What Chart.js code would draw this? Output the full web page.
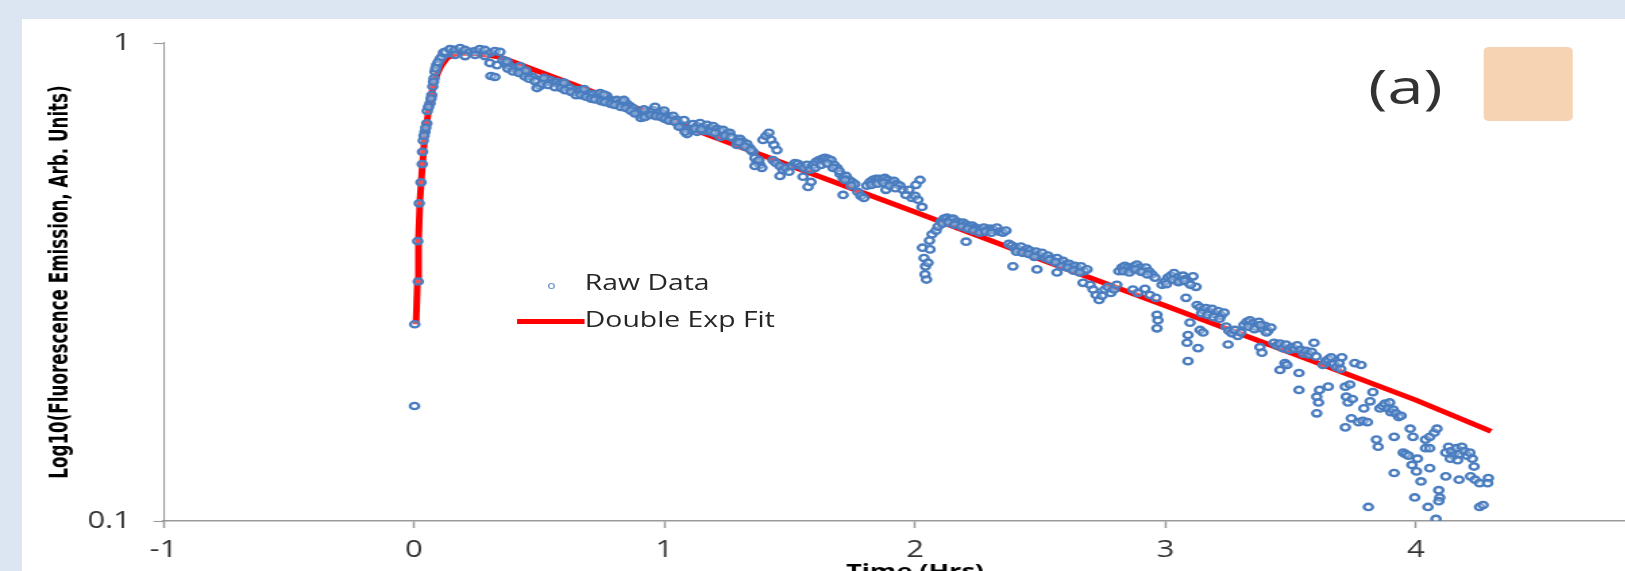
<!DOCTYPE html>
<html>
<head>
<meta charset="utf-8">
<script src="https://cdn.jsdelivr.net/npm/chart.js@4.4.1/dist/chart.umd.min.js"></script>
<style>
  html, body { margin: 0; padding: 0; width: 1625px; height: 571px; overflow: hidden; background: #dce6f2; }
  #panel { position: absolute; left: 22px; top: 19px; width: 1603px; height: 552px; background: #fff; }
  /* the source figure is stretched sideways, so the whole drawing is too */
  #stage { position: absolute; left: 0; top: 0; width: 1260px; height: 600px; transform: scaleX(1.35); transform-origin: 0 0; }
  #stage canvas { position: absolute; left: 0; top: 0; }
  .txt { position: absolute; font-family: 'Open Sans', sans-serif; color: #262626; white-space: nowrap; }
  .legend { font-size: 21px; line-height: 24px; }
  #mark { position: absolute; left: 405.6px; top: 283.2px; width: 3.4px; height: 3.4px; border: 1.4px solid #6f97cc; border-radius: 50%; }
  #fitline { position: absolute; left: 382.7px; top: 318.5px; width: 50.6px; height: 5px; background: #ff0000; }
  #tag { left: 1013.6px; top: 61px; font-size: 48px; line-height: 50px; color: #333; }
  #swatch { position: absolute; left: 1098.5px; top: 47px; width: 66.7px; height: 74px; background: #f6d3b2; border-radius: 4px; }
</style>
</head>
<body>
<div id="panel"></div>
<div id="stage">
  <canvas id="chart" width="1260" height="600" style="width:1260px;height:600px"></canvas>
  <div id="mark"></div>
  <div class="txt legend" style="left:433.2px;top:270.4px">Raw Data</div>
  <div id="fitline"></div>
  <div class="txt legend" style="left:433.2px;top:307.4px">Double Exp Fit</div>
  <div class="txt" id="tag">(a)</div>
  <div id="swatch"></div>
</div>
<script>
const xTicks = [-1, 0, 1, 2, 3, 4, 5];
const yTicks = [0.1, 1];
const yTickLabels = ['0.1', '1'];

// [time in hours, emission]
const rawData = [
  [0.002,0.174],[0.003,0.258],[0.017,0.317],[0.015,0.385],[0.021,0.462],[0.028,0.511],[0.033,0.558],[0.034,0.592],
  [0.037,0.625],[0.044,0.652],[0.051,0.679],[0.053,0.721],[0.064,0.748],[0.071,0.778],[0.075,0.811],[0.080,0.844],
  [0.084,0.871],[0.091,0.900],[0.104,0.925],[0.124,0.948],[0.144,0.970],
  [0.040,0.640],[0.047,0.665],[0.058,0.735],[0.068,0.765],[0.078,0.830],[0.087,0.885],[0.097,0.912],[0.110,0.935],[0.118,0.955],
  [0.124,0.958],[0.144,0.971],[0.164,0.967],[0.184,0.976],[0.204,0.967],[0.224,0.958],[0.244,0.962],[0.263,0.971],
  [0.283,0.967],[0.303,0.953],[0.323,0.962],[0.343,0.958],[0.164,0.944],[0.204,0.939],[0.244,0.944],[0.283,0.939],
  [0.303,0.908],[0.331,0.899],[0.307,0.853],[0.323,0.849],
  [0.355,0.921],[0.367,0.904],[0.383,0.895],[0.399,0.886],[0.411,0.878],[0.423,0.878],[0.435,0.869],[0.451,0.862],
  [0.463,0.853],[0.475,0.849],[0.491,0.837],[0.503,0.813],[0.515,0.837],[0.527,0.829],[0.543,0.837],[0.555,0.825],
  [0.571,0.829],[0.583,0.821],[0.595,0.817],[0.611,0.813],[0.623,0.805],[0.635,0.790],[0.651,0.797],[0.663,0.794],
  [0.675,0.790],[0.691,0.786],[0.703,0.778],[0.715,0.782],[0.731,0.775],[0.743,0.771],[0.754,0.767],[0.770,0.775],
  [0.782,0.760],[0.794,0.756],[0.810,0.760],[0.822,0.749],[0.834,0.753],[0.850,0.746],[0.862,0.738],[0.874,0.731],
  [0.890,0.717],[0.902,0.707],[0.914,0.704],[0.930,0.717],[0.942,0.721],[0.954,0.724],[0.970,0.714],[0.982,0.717],
  [0.994,0.711],[1.010,0.704],[1.022,0.697],[1.034,0.704],[1.050,0.691],[1.062,0.677],[1.074,0.664],[1.090,0.645],
  [1.102,0.658],[0.491,0.805],[0.743,0.786],[0.962,0.735],[0.423,0.895],
  [0.375,0.884],[0.395,0.872],[0.419,0.866],[0.443,0.851],[0.459,0.842],[0.483,0.832],[0.511,0.822],[0.535,0.817],
  [0.563,0.808],[0.587,0.805],[0.603,0.797],[0.627,0.790],[0.647,0.778],[0.667,0.778],[0.687,0.772],[0.707,0.765],
  [0.723,0.762],[0.747,0.756],[0.763,0.752],[0.786,0.746],[0.802,0.742],[0.826,0.735],[0.846,0.731],[0.866,0.722],
  [0.882,0.712],[0.906,0.697],[0.922,0.700],[0.946,0.707],[0.966,0.703],[0.986,0.700],[1.002,0.694],[1.018,0.688],
  [1.042,0.684],[1.058,0.668],[1.082,0.652],
  [0.371,0.915],[0.447,0.876],[0.519,0.845],[0.599,0.826],[0.679,0.801],[0.759,0.780],[0.838,0.760],[0.918,0.726],
  [0.998,0.722],[1.078,0.690],
  [1.114,0.677],[1.130,0.670],[1.142,0.680],[1.154,0.667],[1.170,0.674],[1.182,0.664],[1.194,0.670],[1.130,0.652],
  [1.162,0.655],[1.210,0.661],[1.222,0.655],[1.234,0.658],[1.250,0.646],[1.261,0.649],[1.222,0.636],[1.273,0.633],
  [1.289,0.627],[1.301,0.630],[1.313,0.621],[1.329,0.615],[1.289,0.612],[1.341,0.603],[1.353,0.592],[1.361,0.575],
  [1.369,0.564],[1.381,0.556],[1.389,0.548],[1.361,0.553],[1.377,0.569],[1.393,0.627],[1.405,0.639],[1.417,0.649],
  [1.425,0.627],[1.437,0.612],[1.449,0.597],[1.433,0.569],[1.445,0.561],[1.461,0.553],[1.473,0.543],[1.485,0.548],
  [1.497,0.538],[1.461,0.527],[1.509,0.553],[1.521,0.561],[1.533,0.559],[1.545,0.553],[1.557,0.548],[1.569,0.556],
  [1.581,0.543],[1.553,0.525],[1.573,0.500],[1.585,0.512],[1.593,0.556],[1.605,0.564],[1.617,0.569],[1.629,0.572],
  [1.641,0.575],[1.653,0.572],[1.665,0.569],[1.677,0.556],[1.689,0.548],[1.701,0.532],[1.713,0.522],[1.725,0.527],
  [1.737,0.517],[1.749,0.512],[1.760,0.507],[1.713,0.481],[1.772,0.488],[1.784,0.479],[1.796,0.474],[1.808,0.503],
  [1.820,0.512],[1.832,0.517],[1.844,0.520],[1.856,0.520],[1.868,0.517],[1.880,0.522],[1.892,0.517],[1.904,0.512],
  [1.916,0.515],[1.928,0.507],[1.884,0.493],[1.940,0.503],[1.952,0.493],[1.964,0.481],[1.976,0.493],[1.988,0.474],
  [2.000,0.479],[2.012,0.470],[2.020,0.517],[2.028,0.454],[2.004,0.505],
  [1.122,0.662],[1.146,0.660],[1.186,0.652],[1.202,0.648],[1.242,0.640],[1.266,0.636],[1.297,0.620],[1.321,0.607],
  [1.345,0.597],[1.601,0.548],[1.625,0.556],[1.649,0.560],[1.673,0.548],[1.697,0.540],[1.721,0.517],[1.745,0.503],
  [1.826,0.505],[1.850,0.508],[1.874,0.510],[1.898,0.503],[1.922,0.497],
  [2.030,0.373],[2.036,0.355],[2.042,0.341],[2.040,0.328],[2.046,0.320],[2.052,0.347],[2.060,0.370],[2.058,0.386],
  [2.068,0.398],[2.084,0.405],
  [2.092,0.413],[2.104,0.423],[2.116,0.429],[2.128,0.431],[2.140,0.427],[2.152,0.429],[2.168,0.423],[2.180,0.419],
  [2.192,0.421],[2.204,0.417],[2.216,0.413],[2.228,0.415],[2.240,0.411],[2.251,0.409],[2.263,0.407],[2.275,0.411],
  [2.287,0.405],[2.299,0.409],[2.311,0.407],[2.204,0.384],[2.327,0.411],[2.339,0.403],[2.351,0.401],[2.363,0.405],
  [2.375,0.380],[2.387,0.377],[2.399,0.373],[2.411,0.370],[2.423,0.375],[2.435,0.366],[2.447,0.371],[2.459,0.368],
  [2.471,0.362],[2.483,0.366],[2.495,0.359],[2.507,0.364],[2.519,0.355],[2.391,0.341],[2.487,0.336],[2.531,0.359],
  [2.543,0.354],[2.555,0.349],[2.567,0.355],[2.579,0.347],[2.591,0.350],[2.603,0.344],[2.615,0.345],[2.627,0.339],
  [2.639,0.342],[2.651,0.336],[2.663,0.341],[2.675,0.333],[2.687,0.336],[2.567,0.331],[2.671,0.315],[2.699,0.312],
  [2.711,0.305],[2.723,0.297],[2.735,0.290],[2.747,0.296],[2.758,0.305],[2.770,0.309],[2.782,0.300],
  [2.110,0.419],[2.134,0.421],[2.158,0.417],[2.186,0.413],[2.210,0.409],[2.234,0.405],[2.258,0.401],[2.282,0.403],
  [2.305,0.401],[2.405,0.366],[2.429,0.364],[2.453,0.362],[2.477,0.357],[2.537,0.352],[2.561,0.348],[2.585,0.341],
  [2.609,0.339],[2.633,0.334],[2.657,0.331],
  [2.794,0.305],[2.806,0.312],[2.814,0.333],[2.826,0.339],[2.838,0.342],[2.850,0.339],[2.862,0.336],[2.874,0.341],
  [2.886,0.344],[2.898,0.339],[2.910,0.334],[2.922,0.339],[2.934,0.333],[2.946,0.328],[2.958,0.323],[2.870,0.305],
  [2.890,0.300],[2.918,0.306],[2.938,0.297],[2.962,0.293],[2.966,0.270],[2.970,0.263],[2.966,0.253],[2.986,0.312],
  [2.998,0.317],[3.010,0.323],[3.022,0.326],[3.034,0.330],[3.046,0.323],[3.058,0.318],[3.070,0.326],[3.082,0.321],
  [3.094,0.315],[3.110,0.325],[3.122,0.309],[3.082,0.293],[3.126,0.283],[3.098,0.260],[3.090,0.245],[3.086,0.236],
  [3.130,0.230],[3.090,0.216],[3.138,0.280],[3.150,0.276],[3.162,0.279],[3.174,0.274],[3.186,0.278],[3.198,0.271],
  [3.210,0.275],[3.222,0.269],[3.234,0.273],[3.138,0.251],[3.150,0.248],[3.242,0.255],[3.253,0.250],[3.265,0.247],
  [3.277,0.251],[3.289,0.244],[3.301,0.248],[3.250,0.234],[3.313,0.257],[3.325,0.261],[3.337,0.263],[3.349,0.259],
  [3.361,0.255],[3.373,0.261],[3.385,0.253],[3.397,0.256],[3.409,0.250],[3.421,0.254],[3.377,0.231],[3.385,0.225],
  [2.832,0.333],[2.856,0.331],[2.880,0.336],[2.904,0.332],[2.928,0.328],[3.004,0.313],[3.028,0.320],[3.052,0.316],
  [3.076,0.318],[3.100,0.312],[3.144,0.272],[3.168,0.270],[3.192,0.267],[3.216,0.265],[3.331,0.255],[3.355,0.252],
  [3.379,0.257],[3.403,0.248],
  [3.433,0.236],[3.445,0.233],[3.457,0.235],[3.469,0.230],[3.481,0.234],[3.493,0.228],[3.504,0.231],[3.515,0.229],
  [3.526,0.233],[3.457,0.207],[3.477,0.214],[3.485,0.212],[3.533,0.204],[3.533,0.188],[3.540,0.228],[3.551,0.224],
  [3.561,0.227],[3.572,0.223],[3.583,0.226],[3.593,0.236],[3.601,0.221],[3.604,0.182],[3.611,0.177],[3.604,0.168],
  [3.615,0.188],[3.650,0.191],[3.629,0.212],[3.640,0.216],[3.650,0.218],[3.661,0.220],[3.672,0.213],[3.682,0.210],
  [3.693,0.214],[3.700,0.208],[3.704,0.220],[3.718,0.191],[3.736,0.193],[3.722,0.182],[3.729,0.177],[3.746,0.180],
  [3.756,0.214],[3.781,0.212],[3.718,0.157],[3.742,0.164],[3.771,0.161],[3.788,0.162],[3.806,0.161],[3.792,0.172],
  [3.817,0.178],[3.828,0.186],[3.842,0.148],[3.849,0.143],[3.856,0.172],[3.867,0.174],[3.877,0.176],[3.888,0.172],
  [3.899,0.169],[3.909,0.171],[3.920,0.168],[3.931,0.165],[3.941,0.166],[3.895,0.177],[3.913,0.150],[3.913,0.126],
  [3.949,0.139],[3.959,0.138],[3.970,0.137],[3.984,0.131],[4.006,0.135],[3.977,0.156],[3.988,0.150],[4.002,0.127],
  [4.020,0.121],[3.995,0.112],[4.038,0.148],[4.055,0.150],[4.073,0.153],[4.084,0.156],[4.038,0.142],[4.055,0.142],
  [4.055,0.129],[4.048,0.107],[4.091,0.116],[4.095,0.112],[4.091,0.110],[4.080,0.101],[4.119,0.139],[4.130,0.143],
  [4.141,0.140],[4.151,0.137],[4.162,0.142],[4.172,0.138],[4.183,0.143],[4.193,0.140],[4.204,0.137],[4.215,0.139],
  [4.225,0.135],[4.137,0.135],[4.166,0.134],[4.119,0.124],[4.172,0.122],[4.218,0.124],[4.236,0.122],[4.254,0.120],
  [4.232,0.130],[4.254,0.107],[4.268,0.108],[4.289,0.123],[4.286,0.120],[3.810,0.107]
];

const fitData = [
  [0.008,0.258],[0.014,0.319],[0.018,0.387],[0.024,0.470],[0.032,0.542],[0.040,0.612],[0.050,0.674],[0.060,0.732],
  [0.072,0.790],[0.088,0.849],[0.108,0.895],[0.132,0.931],[0.164,0.948],[0.204,0.953],[0.263,0.948],[0.343,0.935],
  [0.5,0.871],[1,0.695],[1.5,0.554],[2,0.443],[2.5,0.353],[3,0.282],[3.5,0.225],[4,0.179],[4.3,0.154]
];

const toXY = pts => pts.map(([x, y]) => ({ x, y }));
const axisColor = '#9a9a9a';
const tickFont = { family: "'Open Sans', sans-serif", size: 23 };

new Chart(document.getElementById('chart'), {
  type: 'scatter',
  data: {
    datasets: [
      {
        label: 'Raw Data',
        data: toXY(rawData),
        pointRadius: 3.2,
        pointBorderWidth: 2.3,
        borderColor: '#4a7dbf',
        backgroundColor: 'rgba(255,255,255,0.3)',
        order: 0
      },
      {
        label: 'Double Exp Fit',
        type: 'line',
        data: toXY(fitData),
        borderColor: '#ff0000',
        borderWidth: 5,
        pointRadius: 0,
        fill: false,
        tension: 0,
        order: 1
      }
    ]
  },
  options: {
    responsive: false,
    animation: false,
    devicePixelRatio: 1,
    layout: { padding: { top: 43, right: 25.6, bottom: 0, left: 0 } },
    plugins: { legend: { display: false }, tooltip: { enabled: false } },
    scales: {
      x: {
        type: 'linear',
        min: -1,
        max: 5,
        afterBuildTicks: axis => { axis.ticks = xTicks.map(v => ({ value: v })); },
        afterFit: s => { s.height = 79; },
        grid: { drawOnChartArea: false, tickLength: 7, color: axisColor, tickWidth: 1.5 },
        border: { color: axisColor, width: 1.5 },
        ticks: { color: '#333', font: tickFont, padding: 8.5, maxRotation: 0 },
        title: {
          display: true,
          text: 'Time (Hrs)',
          color: '#000',
          font: { family: "'Open Sans', sans-serif", size: 20, weight: 'bold' },
          padding: { top: 0, bottom: 16 }
        }
      },
      y: {
        type: 'logarithmic',
        min: 0.1,
        max: 1,
        afterBuildTicks: axis => { axis.ticks = yTicks.map(v => ({ value: v })); },
        afterFit: s => { s.width = 121.1; },
        grid: { drawOnChartArea: false, tickLength: 7.4, color: axisColor, tickWidth: 1.1 },
        border: { color: axisColor, width: 1.1 },
        ticks: {
          color: '#333',
          font: tickFont,
          padding: 16.7,
          callback: v => { const i = yTicks.indexOf(v); return i >= 0 ? yTickLabels[i] : ''; }
        },
        title: {
          display: true,
          text: 'Log10(Fluorescence Emission, Arb. Units)',
          color: '#000',
          font: { family: "'Liberation Sans Narrow', 'DejaVu Sans Condensed', sans-serif", size: 18.6, weight: 'bold' },
          padding: { top: 34.5, bottom: 0 }
        }
      }
    }
  }
});
</script>
</body>
</html>
